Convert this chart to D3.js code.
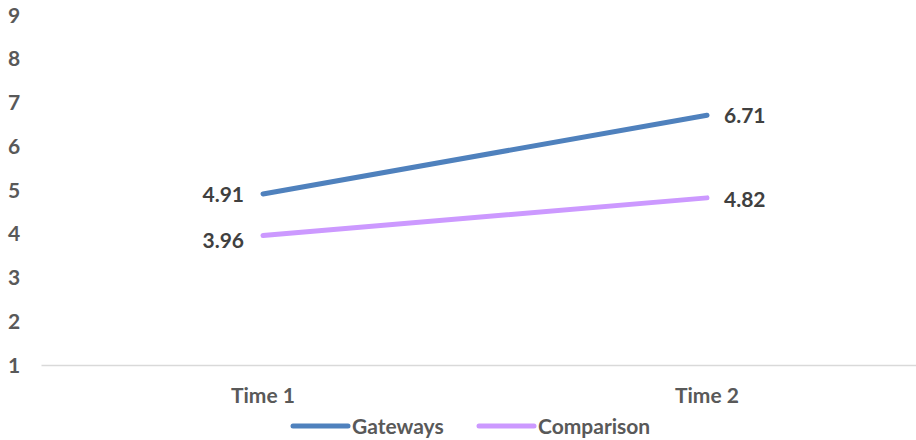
<!DOCTYPE html>
<html>
<head>
<meta charset="utf-8">
<script src="https://cdn.jsdelivr.net/npm/d3@7"></script>
<style>
  html, body { margin: 0; padding: 0; background: #fff; }
  svg { display: block; font-family: Lato, "Open Sans", sans-serif; font-weight: bold; }
</style>
</head>
<body>
<svg id="chart" width="916" height="440"></svg>
<script>
const categories = ["Time 1", "Time 2"];
const gateways = [4.91, 6.71];
const comparison = [3.96, 4.82];
const yTicks = [1, 2, 3, 4, 5, 6, 7, 8, 9];
const seriesNames = ["Gateways", "Comparison"];
const seriesColors = ["#4F81BD", "#CC99FF"];

const svg = d3.select("#chart");
const FONT = "Lato, 'Open Sans', sans-serif";

const x = d3.scaleBand().domain(categories).range([41, 929]);
const y = d3.scaleLinear().domain([1, 9]).range([365, 15]);
const cx = c => x(c) + x.bandwidth() / 2;

// y tick labels (no axis line)
svg.append("g").selectAll("text").data(yTicks).join("text")
  .attr("x", 8).attr("y", d => y(d)).attr("dy", "0.36em")
  .attr("font-size", 21).attr("fill", "#595959")
  .text(d => d);

// category axis baseline
const xAxis = d3.axisBottom(x).tickSize(0).tickPadding(0);
const gx = svg.append("g").attr("transform", `translate(0,${y(1)})`).call(xAxis);
gx.attr("font-size", 21).attr("font-family", FONT);
gx.select(".domain").attr("stroke", "#d9d9d9").attr("stroke-width", 1.5);
gx.selectAll(".tick text")
  .attr("y", 30).attr("dy", "0.36em")
  .attr("font-weight", "bold").attr("fill", "#595959");

const line = d3.line().x((d, i) => cx(categories[i])).y(d => y(d));

const series = [gateways, comparison];
series.forEach((vals, s) => {
  svg.append("path").datum(vals)
    .attr("d", line).attr("fill", "none")
    .attr("stroke", seriesColors[s]).attr("stroke-width", 5)
    .attr("stroke-linecap", "round");
});

// data labels
const labelFmt = d3.format(".2f");
const labelDy = [[1, 0], [4.5, 1.5]];
series.forEach((vals, s) => {
  vals.forEach((v, i) => {
    const left = i === 0;
    svg.append("text")
      .attr("x", cx(categories[i]) + (left ? -19 : 17))
      .attr("y", y(v) + labelDy[s][i])
      .attr("dy", "0.36em")
      .attr("text-anchor", left ? "end" : "start")
      .attr("font-size", 21).attr("fill", "#404040")
      .text(labelFmt(v));
  });
});

// legend
const legendX = [293, 479];
seriesNames.forEach((name, s) => {
  const g = svg.append("g").attr("transform", `translate(${legendX[s]},426)`);
  g.append("line").attr("x1", 0).attr("x2", 55).attr("y1", 0).attr("y2", 0)
    .attr("stroke", seriesColors[s]).attr("stroke-width", 5).attr("stroke-linecap", "round");
  g.append("text").attr("x", 59).attr("dy", "0.36em")
    .attr("font-size", 21).attr("fill", "#595959").text(name);
});
</script>
</body>
</html>
